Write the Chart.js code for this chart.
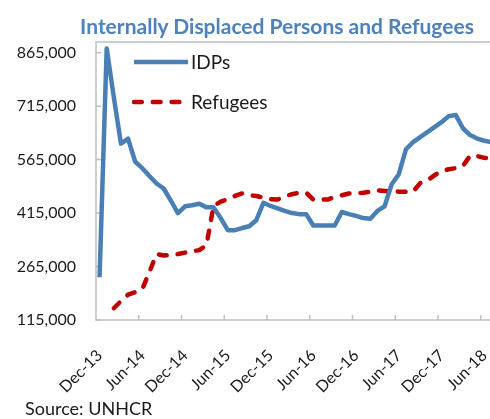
<!DOCTYPE html>
<html>
<head>
<meta charset="utf-8">
<script src="https://cdn.jsdelivr.net/npm/chart.js@4.4.1/dist/chart.umd.min.js"></script>
<style>
  html, body { margin: 0; padding: 0; background: #fff; overflow: hidden; }
  #wrap { position: relative; width: 500px; height: 419px; }
  #title { position: absolute; top: 13px; left: 277px; transform: translateX(-50%);
           white-space: nowrap; font: bold 21px Lato, sans-serif; color: #4f81bd; }
  #source { position: absolute; left: 25px; top: 397px; font: 18px Lato, sans-serif; color: #1a1a1a; }
</style>
</head>
<body>
<div id="wrap">
  <canvas id="myChart" width="500" height="419"></canvas>
  <div id="title">Internally Displaced Persons and Refugees</div>
  <div id="source">Source: UNHCR</div>
</div>
<script>
// monthly, Dec-13 .. Jul-18 (last one is cut off at the right edge)
const months = [
  'Dec-13',
  'Jan-14','Feb-14','Mar-14','Apr-14','May-14','Jun-14','Jul-14','Aug-14','Sep-14','Oct-14','Nov-14','Dec-14',
  'Jan-15','Feb-15','Mar-15','Apr-15','May-15','Jun-15','Jul-15','Aug-15','Sep-15','Oct-15','Nov-15','Dec-15',
  'Jan-16','Feb-16','Mar-16','Apr-16','May-16','Jun-16','Jul-16','Aug-16','Sep-16','Oct-16','Nov-16','Dec-16',
  'Jan-17','Feb-17','Mar-17','Apr-17','May-17','Jun-17','Jul-17','Aug-17','Sep-17','Oct-17','Nov-17','Dec-17',
  'Jan-18','Feb-18','Mar-18','Apr-18','May-18','Jun-18','Jul-18'
];

const idps = [
  235000,
  877000, 740000, 610000, 624000, 559000, 541000, 519000, 498000, 484000, 450000, 415000, 434000,
  437000, 441000, 431000, 431000, 401000, 367000, 367000, 373000, 378000, 395000, 444000, 435000,
  428000, 421000, 415000, 412000, 412000, 380000, 380000, 380000, 380000, 418000, 412000, 407000,
  401000, 399000, 421000, 434000, 496000, 524000, 594000, 614000, 628000, 642000, 656000, 670000,
  687000, 690000, 653000, 634000, 624000, 618000, 614000
];

const refugees = [
  null,
  null, 148000, 168000, 186000, 193000, 202000, 250000, 300000, 296000, 297000, 300000, 304000,
  308000, 311000, 325000, 435000, 447000, 454000, 463000, 470000, 465000, 463000, 458000, 454000,
  453000, 462000, 468000, 472000, 472000, 453000, 453000, 453000, 460000, 465000, 470000, 471000,
  472000, 475000, 479000, 477000, 477000, 475000, 475000, 475000, 499000, 507000, 521000, 533000,
  538000, 541000, 547000, 576000, 575000, 570000, 568000
];

const yTicks = [115000, 265000, 415000, 565000, 715000, 865000];
const yMin = 115000;
const yMax = 895000;

const FONT = 'Lato, sans-serif';
const AXIS = '#bfbfbf';

// frame round the plot, inward tick marks and the legend inside the plot
const decor = {
    id: 'decor',
    beforeDatasetsDraw(chart) {
        const { ctx, chartArea: a, scales: { x, y } } = chart;
        ctx.save();
        ctx.strokeStyle = AXIS;
        ctx.lineWidth = 1.5;
        ctx.strokeRect(a.left, a.top, a.right - a.left, a.bottom - a.top);
        ctx.beginPath();
        yTicks.forEach(v => {
            const py = y.getPixelForValue(v);
            ctx.moveTo(a.left, py);
            ctx.lineTo(a.left + 5, py);
        });
        for (let i = 6; i < months.length; i += 6) {
            const px = (x.getPixelForValue(i - 1) + x.getPixelForValue(i)) / 2;
            ctx.moveTo(px, a.bottom);
            ctx.lineTo(px, a.bottom - 5);
        }
        ctx.stroke();
        ctx.restore();
    },
    afterDatasetsDraw(chart) {
        const { ctx, chartArea: a } = chart;
        ctx.save();
        chart.data.datasets.forEach((ds, k) => {
            const ly = a.top + 20 + 40 * k;
            ctx.strokeStyle = ds.borderColor;
            ctx.lineWidth = ds.borderWidth;
            ctx.lineCap = ds.borderCapStyle || 'butt';
            ctx.setLineDash(ds.borderDash || []);
            ctx.beginPath();
            ctx.moveTo(a.left + 38, ly);
            ctx.lineTo(a.left + 92, ly);
            ctx.stroke();
            ctx.setLineDash([]);
            ctx.fillStyle = '#1a1a1a';
            ctx.font = '19px ' + FONT;
            ctx.textBaseline = 'middle';
            ctx.fillText(ds.label, a.left + 95, ly + 1);
        });
        ctx.restore();
    }
};

new Chart(document.getElementById('myChart'), {
    type: 'line',
    data: {
        labels: months,
        datasets: [{
            label: 'IDPs',
            data: idps,
            borderColor: '#4a7fb5',
            borderWidth: 4.5,
            borderJoinStyle: 'round',
            pointRadius: 0,
            tension: 0
        }, {
            label: 'Refugees',
            data: refugees,
            borderColor: '#c00000',
            borderWidth: 4.5,
            borderDash: [7.8, 11],
            borderCapStyle: 'round',
            borderJoinStyle: 'round',
            pointRadius: 0,
            tension: 0
        }]
    },
    options: {
        responsive: false,
        animation: false,
        layout: { padding: { left: 0, top: 42, right: 5, bottom: 0 } },
        plugins: {
            legend: { display: false },
            title: { display: false },
            tooltip: { enabled: false }
        },
        scales: {
            x: {
                offset: true,
                grid: { display: false, drawTicks: false },
                border: { display: false },
                ticks: {
                    autoSkip: false,
                    minRotation: 45,
                    maxRotation: 45,
                    padding: 26,
                    color: '#1a1a1a',
                    font: { family: FONT, size: 16 },
                    callback: (v, i) => (i % 6 === 0 ? months[i] : '')
                },
                afterFit: s => {
                    s.height = 99;
                    s.paddingLeft = 0;
                    s.paddingRight = 0;
                }
            },
            y: {
                min: yMin,
                max: yMax,
                grid: { display: false, drawTicks: false },
                border: { display: false },
                afterBuildTicks: s => { s.ticks = yTicks.map(v => ({ value: v })); },
                ticks: {
                    padding: 20,
                    color: '#1a1a1a',
                    font: { family: FONT, size: 16 },
                    callback: v => v.toLocaleString('en-US')
                },
                afterFit: s => { s.width = 96; }
            }
        }
    },
    plugins: [decor]
});
</script>
</body>
</html>
